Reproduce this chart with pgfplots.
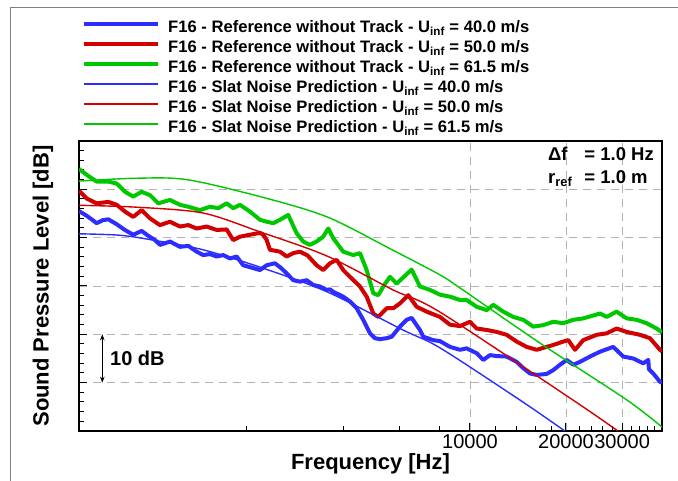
\documentclass[border=0pt]{standalone}
\usepackage{pgfplots}
\pgfplotsset{compat=1.18}
\usepackage{fontspec}
\setmainfont{Liberation Sans}
\usetikzlibrary{arrows.meta}
\definecolor{cblue}{RGB}{45,45,255}
\definecolor{cred}{RGB}{210,0,0}
\definecolor{cgreen}{RGB}{0,200,0}
\begin{document}
\begin{tikzpicture}
\path[use as bounding box] (0pt,0pt) rectangle (678pt,481pt);
\draw[gray, line width=0.8pt] (10.7pt,0pt) -- (10.7pt,474pt) -- (678pt,474pt);
\begin{axis}[
  at={(79pt,50pt)}, anchor=south west,
  width=583pt, height=290pt, scale only axis,
  xmode=log,
  xmin=595, xmax=40000,
  ymin=0, ymax=60,
  xtick pos=bottom, ytick pos=left,
  xtick={10000,20000,30000},
  xticklabels={10000,20000,30000},
  minor xtick={2000,4000,6000,8000,12000,14000,16000,18000,22000,24000,26000,28000,32000,34000,36000,38000},
  ytick={10,20,30,40,50},
  yticklabels={},
  minor ytick={2,4,6,8,12,14,16,18,22,24,26,28,32,34,36,38,42,44,46,48,52,54,56,58},
  xmajorgrids, ymajorgrids,
  major grid style={black!30, line width=0.9pt, dash pattern=on 8pt off 6pt},
  axis line style={line width=1.4pt},
  every tick/.style={black, line width=1pt},
  major tick length=8pt, minor tick length=4.5pt,
  tick label style={font=\fontsize{20}{24}\selectfont},
  xlabel={Frequency [Hz]},
  ylabel={Sound Pressure Level [dB]},
  label style={font=\bfseries\fontsize{22}{26}\selectfont},
  xlabel style={at={(axis description cs:0.5,-0.1138)}, anchor=center},
  ylabel style={at={(axis description cs:-0.0617,0.5)}, anchor=center},
  legend style={at={(0,1.425)}, anchor=north west, draw=none, fill=none,
    font=\bfseries\fontsize{16.6}{20}\selectfont, row sep=0pt,
    nodes={inner sep=0pt, text height=13pt, text depth=7pt},
    /tikz/every odd column/.style={column sep=8pt}},
  legend cell align=left,
  legend image code/.code={\draw[#1] (0pt,6pt) -- (74pt,6pt);},
]
\addplot[cblue, line width=4pt, line join=round] coordinates {(595,45.5)(630,44.5)(676,43.0)(705,43.6)(735,43.8)(780,42.8)(828,41.6)(880,40.6)(935,41.4)(980,40.4)(1030,39.5)(1068,38.5)(1148,39.2)(1233,38.1)(1310,38.3)(1391,37.1)(1459,36.4)(1530,36.6)(1607,36.1)(1686,36.4)(1770,35.7)(1857,36.1)(1946,34.3)(2093,33.7)(2197,33.3)(2306,34.3)(2447,34.7)(2550,33.8)(2664,32.6)(2793,31.2)(2932,30.9)(3077,31.2)(3228,30.2)(3387,29.9)(3554,29.2)(3640,29.3)(3728,28.8)(4006,27.8)(4206,26.8)(4414,25.4)(4630,23.0)(4860,20.2)(5037,19.2)(5223,19.0)(5483,19.2)(5685,19.5)(6035,21.6)(6331,23.0)(6565,23.4)(6970,20.9)(7140,19.5)(7673,18.8)(8054,18.6)(8657,17.4)(9304,16.8)(9766,17.1)(10495,16.1)(11008,14.7)(11555,15.7)(12126,15.5)(13032,15.4)(14013,14.3)(14696,13.0)(15425,11.9)(16189,11.6)(17395,11.8)(18245,12.6)(19150,13.7)(20098,14.7)(21078,13.7)(22124,14.3)(23776,15.4)(25552,16.4)(28132,17.4)(30244,15.4)(32503,15.0)(34939,14.0)(36224,14.7)(36400,12.8)(37550,11.9)(39417,10.2)(40000,10.0)};
\addlegendentry{F16 - Reference without Track - U\textsubscript{inf} = 40.0 m/s}
\addplot[cred, line width=4pt, line join=round] coordinates {(595,49.7)(629,48.1)(676,47.1)(735,47.4)(781,46.8)(829,45.4)(880,44.3)(935,45.7)(993,44.0)(1067,42.6)(1147,43.3)(1233,42.3)(1309,42.6)(1391,41.9)(1495,42.3)(1607,41.6)(1727,41.7)(1811,39.5)(1901,40.2)(2043,40.6)(2197,41.0)(2250,40.6)(2306,39.5)(2360,37.5)(2537,37.1)(2664,36.1)(2793,36.8)(2932,37.1)(3100,36.3)(3306,34.3)(3468,33.3)(3640,34.7)(3821,35.4)(4006,33.3)(4206,31.9)(4521,29.9)(4745,27.8)(4977,24.3)(5159,23.6)(5483,25.4)(5751,25.4)(6035,26.4)(6407,28.1)(6807,25.7)(7316,24.7)(8054,23.6)(8657,22.0)(9304,21.7)(10000,22.6)(10495,21.2)(11284,20.9)(12126,20.5)(13032,19.9)(14013,18.5)(15058,17.4)(16189,16.8)(17395,17.4)(18245,17.8)(19615,18.5)(20334,18.8)(21345,16.8)(22658,18.8)(24953,19.9)(26823,20.2)(28838,21.2)(30999,20.5)(34122,19.9)(36668,19.2)(39417,16.8)(40000,16.5)};
\addlegendentry{F16 - Reference without Track - U\textsubscript{inf} = 50.0 m/s}
\addplot[cgreen, line width=4pt, line join=round] coordinates {(595,54.2)(629,53.0)(676,51.6)(735,51.6)(781,51.2)(829,49.5)(880,48.5)(935,49.5)(993,48.8)(1054,47.1)(1147,47.8)(1233,46.8)(1309,46.4)(1424,45.7)(1531,46.4)(1626,46.1)(1727,47.1)(1811,46.1)(1901,46.8)(2043,45.4)(2197,43.7)(2306,43.3)(2418,43.0)(2537,43.7)(2694,44.7)(2862,40.9)(3002,39.2)(3150,38.5)(3306,39.2)(3468,40.2)(3596,41.9)(3728,39.9)(4006,37.1)(4307,36.4)(4521,36.8)(4745,33.3)(4977,28.5)(5159,28.1)(5400,30.3)(5614,31.9)(5891,30.5)(6565,33.4)(6970,29.9)(7491,29.2)(8054,28.2)(8657,27.8)(9304,27.1)(9766,27.1)(10495,25.7)(11284,25.0)(11830,26.1)(12718,24.7)(13669,23.6)(14696,23.0)(15790,21.6)(16973,21.9)(18245,22.6)(19615,22.3)(21078,23.0)(22658,23.3)(25552,24.3)(26823,23.6)(28838,24.7)(30999,23.3)(33318,23.0)(35804,22.3)(38480,21.2)(40000,20.4)};
\addlegendentry{F16 - Reference without Track - U\textsubscript{inf} = 61.5 m/s}
\addplot[cblue, line width=1.4pt, smooth] coordinates {(595,40.8)(800,40.5)(1014,39.5)(1456,37.5)(2197,33.9)(3564,28.8)(6166,20.9)(8054,17.2)(14350,6.4)(19850,0)(21000,-1.1)};
\addlegendentry{F16 - Slat Noise Prediction - U\textsubscript{inf} = 40.0 m/s}
\addplot[cred, line width=1.4pt, smooth] coordinates {(595,46.7)(904,46.3)(1456,45.1)(2197,41.2)(3564,36.2)(5738,29.2)(8054,24.6)(21040,6.4)(29110,0)(31000,-1.2)};
\addlegendentry{F16 - Slat Noise Prediction - U\textsubscript{inf} = 50.0 m/s}
\addplot[cgreen, line width=1.4pt, smooth] coordinates {(595,51.7)(904,52.3)(1297,52.0)(2197,48.5)(3564,44.3)(5738,37.4)(8054,32.3)(9302,29.6)(16570,18.2)(31060,6.4)(40000,0.8)};
\addlegendentry{F16 - Slat Noise Prediction - U\textsubscript{inf} = 61.5 m/s}
\draw[line width=0.7pt, {Stealth[length=6pt,width=4.5pt]}-{Stealth[length=6pt,width=4.5pt]}] (axis cs:704,10) -- (axis cs:704,20);
\node[anchor=west, inner sep=0pt, font=\bfseries\fontsize{20}{24}\selectfont] at (axis cs:744,15) {10 dB};
\end{axis}
\node[anchor=north east, inner sep=0pt, font=\bfseries\fontsize{18.5}{23}\selectfont] at (654pt,337pt) {\begin{tabular}{@{}l@{\hspace{12pt}}l@{}}Δf & = 1.0 Hz\\ r\textsubscript{ref} & = 1.0 m\end{tabular}};
\end{tikzpicture}
\end{document}
